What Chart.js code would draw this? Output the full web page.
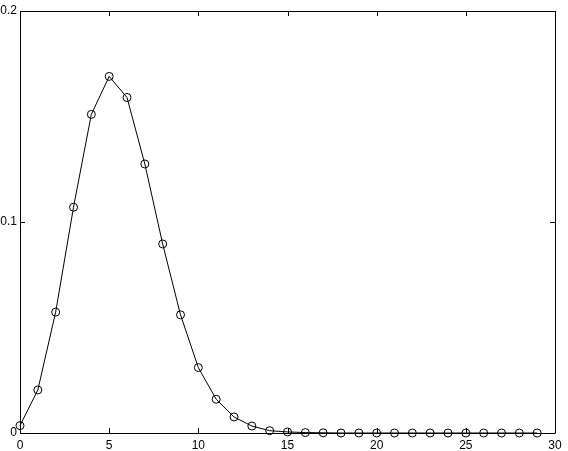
<!DOCTYPE html>
<html>
<head>
<meta charset="utf-8">
<script src="https://cdn.jsdelivr.net/npm/chart.js"></script>
<style>
  html, body { margin: 0; padding: 0; background: #fff; }
  #wrap { width: 568px; height: 451px; }
</style>
</head>
<body>
<div id="wrap"><canvas id="plot"></canvas></div>
<script>
// values
const xs = [0, 1, 2, 3, 4, 5, 6, 7, 8, 9, 10, 11, 12, 13, 14, 15, 16, 17, 18, 19,
            20, 21, 22, 23, 24, 25, 26, 27, 28, 29];
const ys = [0.0035, 0.0204, 0.0573, 0.107, 0.151, 0.169, 0.159, 0.1275, 0.0896, 0.056,
            0.031, 0.016, 0.0076, 0.0033, 0.0011, 0.0005, 0.0002, 0.0001, 0, 0,
            0, 0, 0, 0, 0, 0, 0, 0, 0, 0];
const xTicks = [0, 5, 10, 15, 20, 25, 30];
const yTicks = [0, 0.1, 0.2];

// frame and inward ticks on all four sides
const framePlugin = {
    id: 'frame',
    afterDatasetsDraw(chart) {
        const { ctx, chartArea: a, scales } = chart;
        const len = 5;
        ctx.save();
        ctx.strokeStyle = '#000';
        ctx.lineWidth = 1;
        ctx.beginPath();
        ctx.rect(a.left + 0.5, a.top + 0.5, a.right - a.left, a.bottom - a.top);
        xTicks.forEach(v => {
            const px = Math.round(scales.x.getPixelForValue(v)) + 0.5;
            ctx.moveTo(px, a.bottom); ctx.lineTo(px, a.bottom - len);
            ctx.moveTo(px, a.top); ctx.lineTo(px, a.top + len);
        });
        yTicks.forEach(v => {
            const py = Math.round(scales.y.getPixelForValue(v)) + 0.5;
            ctx.moveTo(a.left, py); ctx.lineTo(a.left + len, py);
            ctx.moveTo(a.right, py); ctx.lineTo(a.right - len, py);
        });
        ctx.stroke();
        ctx.restore();
    }
};

const font = { family: "'Liberation Sans', Arial, sans-serif", size: 12 };

new Chart(document.getElementById('plot'), {
    type: 'line',
    data: {
        datasets: [{
            data: xs.map((x, i) => ({ x: x, y: ys[i] })),
            borderColor: '#000',
            borderWidth: 1,
            pointRadius: 4,
            pointBorderWidth: 1,
            pointBorderColor: '#000',
            pointBackgroundColor: 'rgba(0,0,0,0)',
            tension: 0,
            clip: false
        }]
    },
    options: {
        animation: false,
        responsive: true,
        maintainAspectRatio: false,
        layout: { padding: { top: 11, right: 13, left: 0, bottom: 0 } },
        plugins: { legend: { display: false }, tooltip: { enabled: false } },
        scales: {
            x: {
                type: 'linear',
                min: 0,
                max: 30,
                grid: { display: false, drawTicks: false },
                border: { display: false },
                afterFit: s => { s.height = 18; },
                afterBuildTicks: s => { s.ticks = xTicks.map(v => ({ value: v })); },
                ticks: { color: '#000', font: font, padding: 5, maxRotation: 0 }
            },
            y: {
                type: 'linear',
                min: 0,
                max: 0.2,
                grid: { display: false, drawTicks: false },
                border: { display: false },
                afterFit: s => { s.width = 20; },
                afterBuildTicks: s => { s.ticks = yTicks.map(v => ({ value: v })); },
                ticks: {
                    color: '#000', font: font, padding: 3,
                    callback: v => String(Math.round(v * 10) / 10)
                }
            }
        }
    },
    plugins: [framePlugin]
});
</script>
</body>
</html>
